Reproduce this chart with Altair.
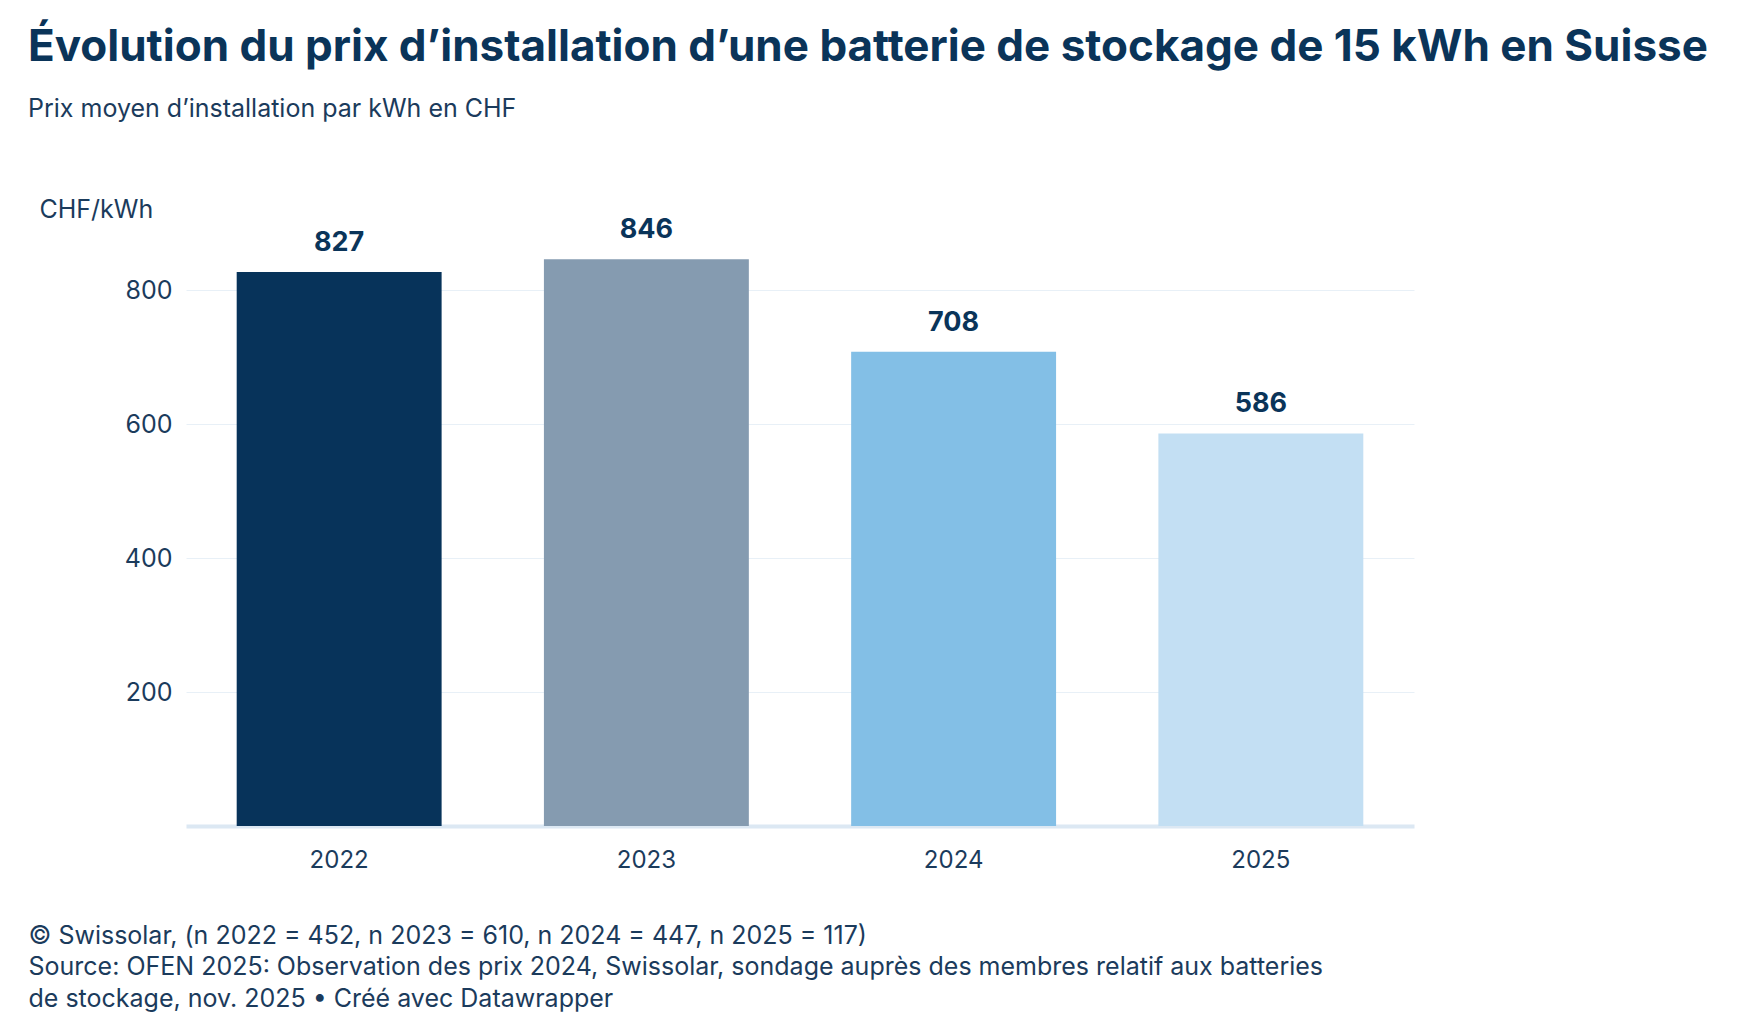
import altair as alt
import pandas as pd

years = ["2022", "2023", "2024", "2025"]
prices = [827, 846, 708, 586]
bar_colors = ["#07335a", "#859bb0", "#83bfe6", "#c3dff3"]
y_ticks = [200, 400, 600, 800]

title_text = "Évolution du prix d’installation d’une batterie de stockage de 15 kWh en Suisse"
subtitle_text = "Prix moyen d’installation par kWh en CHF"
y_unit = "CHF/kWh"
footer_lines = [
    "© Swissolar, (n 2022 = 452, n 2023 = 610, n 2024 = 447, n 2025 = 117)",
    "Source: OFEN 2025: Observation des prix 2024, Swissolar, sondage auprès des membres relatif aux batteries",
    "de stockage, nov. 2025 • Créé avec Datawrapper",
]

df = pd.DataFrame({"year": years, "price": prices})

FONT = "Inter"
NAVY = "#0a3459"
TEXT = "#1b3b5c"

x = alt.X(
    "year:N",
    sort=years,
    scale=alt.Scale(paddingInner=0.333, paddingOuter=0.165),
    axis=alt.Axis(
        title=footer_lines,
        titleX=-158,
        titleY=97,
        titleAlign="left",
        titleAnchor="start",
        titleBaseline="top",
        titleFont=FONT,
        titleFontSize=25,
        titleFontWeight="normal",
        titleColor=TEXT,
        titleLineHeight=31.5,
        labelFont=FONT,
        labelFontSize=24,
        labelColor=TEXT,
        labelPadding=22,
        labelAngle=0,
        ticks=False,
        domain=True,
        domainColor="#dce8f3",
        domainWidth=4,
        grid=False,
    ),
)

y = alt.Y(
    "price:Q",
    scale=alt.Scale(domain=[0, 900], nice=False),
    axis=alt.Axis(
        values=y_ticks,
        title=y_unit,
        titleAngle=0,
        titleX=-147,
        titleY=-6,
        titleAlign="left",
        titleBaseline="alphabetic",
        titleFont=FONT,
        titleFontSize=25,
        titleFontWeight="normal",
        titleColor=TEXT,
        labelFont=FONT,
        labelFontSize=25,
        labelColor=TEXT,
        labelPadding=14,
        ticks=False,
        domain=False,
        grid=True,
        gridColor="#e8f0f7",
        gridWidth=1,
    ),
)

bars = alt.Chart(df).mark_bar().encode(
    x=x,
    y=y,
    color=alt.Color(
        "year:N",
        scale=alt.Scale(domain=years, range=bar_colors),
        legend=None,
    ),
)

labels = alt.Chart(df).mark_text(
    font=FONT,
    fontSize=27,
    fontWeight="bold",
    color=NAVY,
    baseline="alphabetic",
    dy=-21,
).encode(
    x=alt.X("year:N", sort=years),
    y=alt.Y("price:Q"),
    text=alt.Text("price:Q"),
)

chart = (
    alt.layer(bars, labels)
    .properties(
        width=1228,
        height=603,
        background="white",
        padding={"left": 178, "top": 215, "right": 326, "bottom": 195},
        autosize=alt.AutoSizeParams(type="none"),
        title=alt.TitleParams(
            text=title_text,
            subtitle=subtitle_text,
            anchor="start",
            frame="group",
            dx=-158,
            dy=-71,
            font=FONT,
            fontSize=44,
            fontWeight="bold",
            color=NAVY,
            subtitleFont=FONT,
            subtitleFontSize=25,
            subtitleColor=TEXT,
            subtitlePadding=27,
        ),
    )
    .configure_view(stroke="transparent", strokeWidth=0)
)

chart.save("out.html", embed_options={"renderer": "svg", "actions": False})
